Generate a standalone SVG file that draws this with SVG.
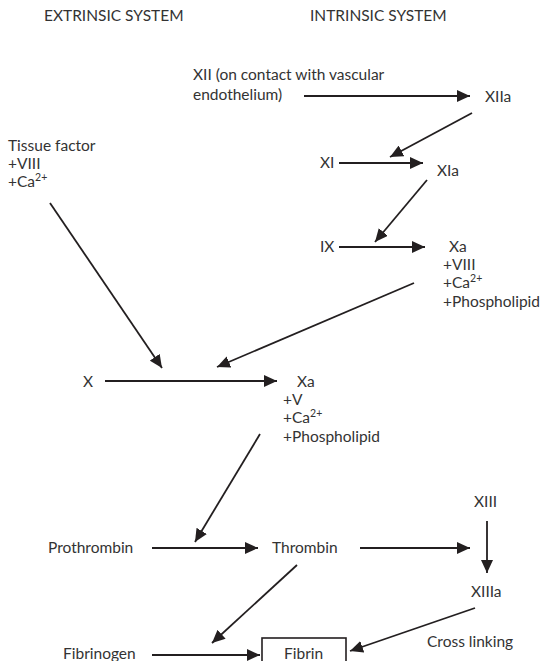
<svg xmlns="http://www.w3.org/2000/svg" width="547" height="661" viewBox="0 0 547 661">
<style>
text{font-family:Lato,"Open Sans","DejaVu Sans",sans-serif;font-size:15.5px;fill:#333}
.sup{font-size:10.5px}
.c line{stroke:#231f20;stroke-width:1.8;marker-end:url(#ah)}
.box{fill:#fff;stroke:#231f20;stroke-width:1.6}
</style>
<defs>
<marker id="ah" markerUnits="userSpaceOnUse" markerWidth="14" markerHeight="12" refX="13" refY="6" orient="auto">
<path d="M0,0 L13,6 L0,12 z" fill="#231f20"/>
</marker>
</defs>
<rect width="547" height="661" fill="#fff"/>
<g id="headers">
<text x="44" y="21">EXTRINSIC SYSTEM</text>
<text x="310" y="21">INTRINSIC SYSTEM</text>
</g>
<g id="xii"><text x="193" y="80">XII (on contact with vascular</text><text x="193" y="100">endothelium)</text></g>
<g id="xiia"><text x="485" y="102">XIIa</text></g>
<g id="xi"><text x="320" y="168">XI</text></g>
<g id="xia"><text x="437" y="176">XIa</text></g>
<g id="ix"><text x="320" y="252">IX</text></g>
<g id="xa1"><text x="449" y="252">Xa</text><text x="443" y="270">+VIII</text><text x="443" y="288">+Ca<tspan class="sup" dy="-6">2+</tspan></text><text x="443" y="307">+Phospholipid</text></g>
<g id="tissue"><text x="8" y="151">Tissue factor</text><text x="8" y="169">+VIII</text><text x="8" y="187">+Ca<tspan class="sup" dy="-6">2+</tspan></text></g>
<g id="x"><text x="83" y="387">X</text></g>
<g id="xa2"><text x="297" y="387">Xa</text><text x="283" y="405">+V</text><text x="283" y="423">+Ca<tspan class="sup" dy="-6">2+</tspan></text><text x="283" y="442">+Phospholipid</text></g>
<g id="prothrombin"><text x="48" y="553">Prothrombin</text></g>
<g id="thrombin"><text x="272" y="553">Thrombin</text></g>
<g id="xiii"><text x="474" y="507">XIII</text></g>
<g id="xiiia"><text x="471" y="597">XIIIa</text></g>
<g id="fibrinogen"><text x="63" y="659">Fibrinogen</text></g>
<g id="fibrin"><rect class="box" x="262" y="638" width="84" height="30"/><text x="284" y="659">Fibrin</text></g>
<g id="crosslinking"><text x="427" y="647">Cross linking</text></g>
<g id="connectors" class="c">
<line x1="304" y1="96" x2="470" y2="96"/>
<line x1="472" y1="113" x2="390" y2="157"/>
<line x1="339" y1="163" x2="423" y2="163"/>
<line x1="427" y1="180" x2="375" y2="242"/>
<line x1="339" y1="247" x2="425" y2="247"/>
<line x1="414" y1="283" x2="217" y2="367"/>
<line x1="50" y1="203" x2="162" y2="368"/>
<line x1="105" y1="381" x2="277" y2="381"/>
<line x1="260" y1="434" x2="195" y2="542"/>
<line x1="152" y1="548" x2="258" y2="548"/>
<line x1="360" y1="548" x2="470" y2="548"/>
<line x1="487" y1="521" x2="487" y2="573"/>
<line x1="297" y1="565" x2="212" y2="643"/>
<line x1="152" y1="655" x2="260" y2="655"/>
<line x1="475" y1="608" x2="350" y2="651"/>
</g>
</svg>
